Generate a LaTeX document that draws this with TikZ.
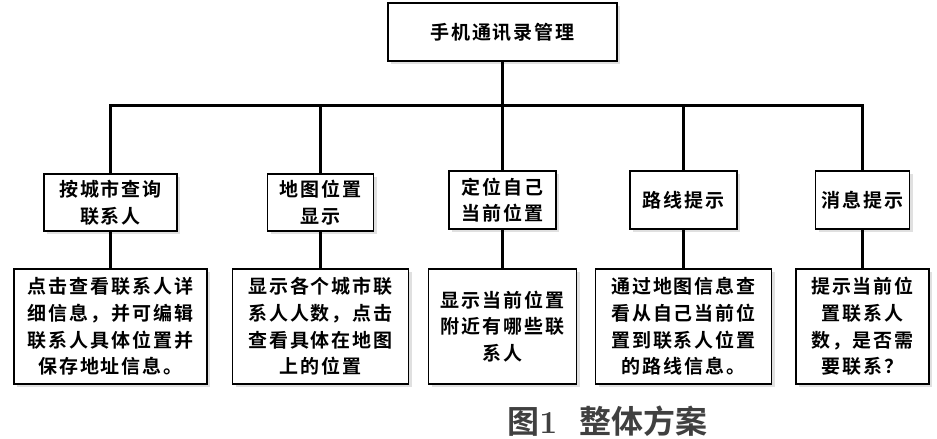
\documentclass[tikz,border=0pt]{standalone}
\usepackage{fontspec}
\usepackage{tikz}
\usetikzlibrary{shadows}
\newfontfamily\cjk[LetterSpace=10,BoldFont={Noto Sans CJK SC Bold}]{Noto Sans CJK SC}
\newfontfamily\cjkcap[BoldFont={Noto Sans CJK SC Bold}]{Noto Sans CJK SC}
\tikzstyle{bx}=[draw,line width=1.2pt,fill=white,align=center,inner sep=0pt,font=\cjk\bfseries\fontsize{19}{26.7}\selectfont,drop shadow={shadow xshift=3pt,shadow yshift=-3pt,fill=black!12,opacity=1}]
\tikzstyle{link}=[line width=3.5pt,line cap=rect]

\begin{document}
\begin{tikzpicture}[x=1pt,y=-1pt]
        \useasboundingbox (0,0) rectangle (937,439);
        \node[bx,minimum width=229,minimum height=58] (top) at (502.5,32) {手机通讯录管理};
        % second row
        \node[bx,minimum width=133,minimum height=57] (city) at (110.5,202.5) {按城市查询\\联系人};
        \node[bx,minimum width=106,minimum height=57] (map) at (320.5,202.5) {地图位置\\显示};
        \node[bx,minimum width=107,minimum height=58] (self) at (502.5,200) {定位自己\\当前位置};
        \node[bx,minimum width=107,minimum height=58] (route) at (683.5,200) {路线提示};
        \node[bx,minimum width=94,minimum height=58] (msg) at (862.5,200) {消息提示};
        % third row
        \node[bx,minimum width=193,minimum height=115] (cityd) at (110.5,326.5) {点击查看联系人详\\细信息，并可编辑\\联系人具体位置并\\保存地址信息。};
        \node[bx,minimum width=176,minimum height=115] (mapd) at (320.5,326.5) {显示各个城市联\\系人人数，点击\\查看具体在地图\\上的位置};
        \node[bx,minimum width=148,minimum height=115] (selfd) at (502.5,326.5) {显示当前位置\\附近有哪些联\\系人};
        \node[bx,minimum width=176,minimum height=115] (routed) at (683.5,326.5) {通过地图信息查\\看从自己当前位\\置到联系人位置\\的路线信息。};
        \node[bx,minimum width=133,minimum height=115] (msgd) at (862.5,326.5) {提示当前位\\置联系人\\数，是否需\\要联系？};
        % connectors
        \draw[link] (top.south) -- ++(0,44) -| (city.north);
        \draw[link] (top.south) -- ++(0,44) -| (map.north);
        \draw[link] (top.south) -- (self.north);
        \draw[link] (top.south) -- ++(0,44) -| (route.north);
        \draw[link] (top.south) -- ++(0,44) -| (msg.north);
        \draw[link] (city.south) -- (cityd.north);
        \draw[link] (map.south) -- (mapd.north);
        \draw[link] (self.south) -- (selfd.north);
        \draw[link] (route.south) -- (routed.north);
        \draw[link] (msg.south) -- (msgd.north);
        \node[text=black!75,font=\cjkcap\bfseries\fontsize{32}{34}\selectfont,inner sep=0pt] (cap) at (607.5,421) {图\textrm{1}\hspace{22pt}整体方案};
\end{tikzpicture}
\end{document}
